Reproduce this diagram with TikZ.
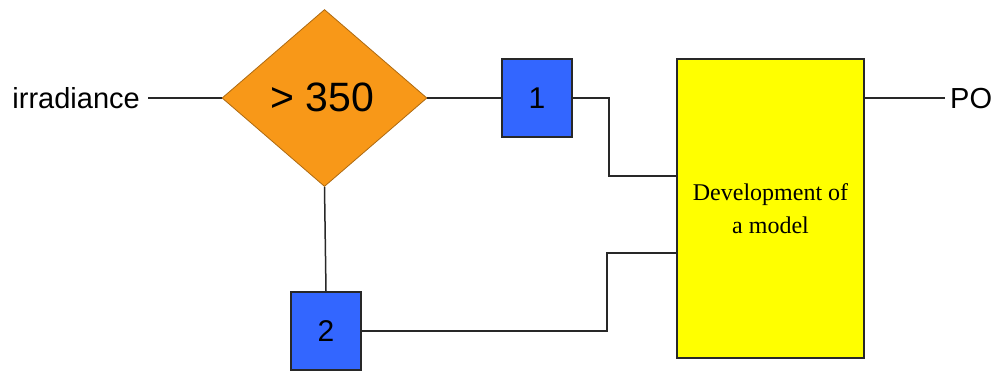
\documentclass[tikz,border=0pt]{standalone}
\usepackage{fontspec}
\setmainfont{Liberation Sans}
\newfontfamily\serifmodel{Liberation Serif}
\usetikzlibrary{shapes.geometric}
\definecolor{diamondorange}{RGB}{248,152,24}
\definecolor{boxblue}{RGB}{51,102,255}
\definecolor{modelyellow}{RGB}{255,255,0}
\definecolor{linegray}{RGB}{40,40,40}
\begin{document}
\begin{tikzpicture}[x=1pt,y=-1pt,
  conn/.style={draw=linegray,line width=1.5pt},
  numbox/.style={draw=linegray,line width=1.3pt,fill=boxblue,minimum width=70pt,minimum height=78pt,inner sep=0pt,font=\fontsize{30}{32}\selectfont},
  lbl/.style={inner sep=0pt,font=\fontsize{29}{32}\selectfont}]
\useasboundingbox (0,0) rectangle (1003,370);
\node[diamond,draw=diamondorange!70!black,line width=0.8pt,fill=diamondorange,minimum width=205pt,minimum height=177pt,inner sep=0pt] (dec) at (324.5,98) {};
\node[inner sep=0pt,font=\fontsize{41}{44}\selectfont] at (322,97) {> 350};
\node[lbl,anchor=east] (irr) at (140,98) {irradiance};
\node[numbox] (b1) at (537,98) {1};
\node[numbox] (b2) at (326,331) {2};
\node[draw=linegray,line width=1.3pt,fill=modelyellow,minimum width=187pt,minimum height=299pt,inner sep=0pt,align=center,font=\serifmodel\fontsize{24}{33}\selectfont] (model) at (770.5,208.5) {Development of\\a model};
\node[lbl,anchor=west] (po) at (950,99) {PO};
\coordinate (k1) at (609,98);
\coordinate (k2) at (609,176);
\coordinate (k3) at (607,331);
\coordinate (k4) at (607,253);
\coordinate (poend) at (945,98);
\draw[conn] (148,98) -- (dec.west);
\draw[conn] (dec.east) -- (b1.west);
\draw[conn] (b1.east) -- (k1) -- (k2) -- (k2 -| model.west);
\draw[conn] (dec.south) -- (b2.north);
\draw[conn] (b2.east) -- (k3) -- (k4) -- (k4 -| model.west);
\draw[conn] (model.east |- poend) -- (poend);
\end{tikzpicture}
\end{document}
